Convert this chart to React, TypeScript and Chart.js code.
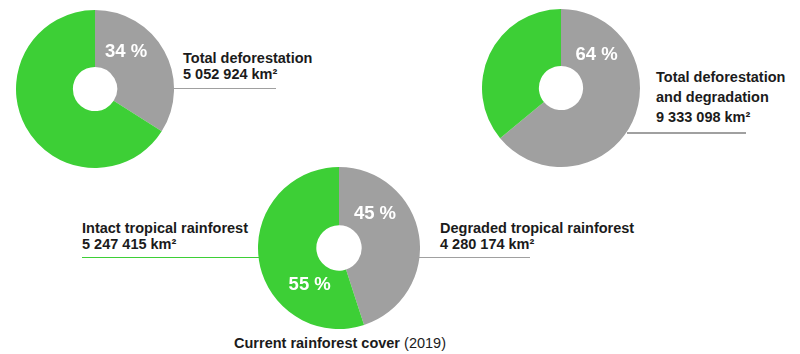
import React, { useEffect, useRef } from "react";
import { Chart, registerables } from "chart.js";
Chart.register(...registerables);

// ---- data ----
const segmentNames = ["Deforested / degraded", "Remaining rainforest"];
const deforestationShares = [34, 66];
const deforestationDegradationShares = [64, 36];
const currentCoverShares = [45, 55];
const deforestationArea = "5 052 924 km²";
const deforestationDegradationArea = "9 333 098 km²";
const intactArea = "5 247 415 km²";
const degradedArea = "4 280 174 km²";

const GREEN = "#3dcf36";
const GRAY = "#a0a0a0";
const TEXT = "#1b1b1b";
const FONT = "'Liberation Sans', Arial, Helvetica, sans-serif";

const pctPlugin = {
  id: "pctLabels",
  afterDatasetsDraw(chart: any, _args: any, opts: any) {
    const meta = chart.getDatasetMeta(0);
    const ds = chart.data.datasets[0];
    const ctx = chart.ctx;
    ctx.save();
    ctx.fillStyle = "#ffffff";
    ctx.font = `bold 18.5px ${FONT}`;
    ctx.textAlign = "center";
    ctx.textBaseline = "middle";
    (opts.items || []).forEach((it: any) => {
      const arc = meta.data[it.index];
      if (!arc) return;
      const a = (it.angle * Math.PI) / 180;
      const x = arc.x + Math.cos(a) * it.dist;
      const y = arc.y + Math.sin(a) * it.dist;
      ctx.fillText(`${ds.data[it.index]} %`, x, y + 1);
    });
    ctx.restore();
  },
};

function Donut(props: { values: number[]; left: number; top: number; size: number; items: any[] }) {
  const ref = useRef<HTMLCanvasElement | null>(null);
  useEffect(() => {
    if (!ref.current) return;
    const chart = new Chart(ref.current, {
      type: "doughnut",
      data: {
        labels: segmentNames,
        datasets: [
          {
            data: props.values,
            backgroundColor: [GRAY, GREEN],
            borderWidth: 0,
          },
        ],
      },
      options: {
        responsive: false,
        animation: false,
        devicePixelRatio: 1,
        cutout: "28%",
        layout: { padding: 0 },
        plugins: {
          legend: { display: false },
          tooltip: { enabled: false },
          pctLabels: { items: props.items },
        } as any,
      },
      plugins: [pctPlugin],
    });
    return () => chart.destroy();
  }, []);
  return (
    <canvas
      ref={ref}
      width={props.size}
      height={props.size}
      style={{ position: "absolute", left: props.left, top: props.top, width: props.size, height: props.size }}
    />
  );
}

const textStyle = (left: number, top: number, lh: number): React.CSSProperties => ({
  position: "absolute",
  left,
  top,
  fontFamily: FONT,
  fontWeight: "bold",
  fontSize: "14.5px",
  lineHeight: `${lh}px`,
  color: TEXT,
  whiteSpace: "nowrap",
});

const lineStyle = (left: number, width: number, top: number, color: string): React.CSSProperties => ({
  position: "absolute",
  left,
  top,
  width,
  height: 1.5,
  background: color,
});

export default function App() {
  useEffect(() => {
    document.body.style.margin = "0";
  }, []);
  return (
    <div style={{ position: "relative", width: 800, height: 354, background: "#fff", overflow: "hidden" }}>
      <div style={lineStyle(174, 102, 87.5, GRAY)} />
      <div style={lineStyle(627, 119, 132, GRAY)} />
      <div style={lineStyle(82, 178, 256.5, GREEN)} />
      <div style={lineStyle(419, 111, 256.5, GRAY)} />

      <Donut values={deforestationShares} left={16} top={10} size={158} items={[{ index: 0, angle: -51, dist: 49.5 }]} />
      <Donut values={deforestationDegradationShares} left={482} top={9} size={158} items={[{ index: 0, angle: -44, dist: 49.5 }]} />
      <Donut
        values={currentCoverShares}
        left={258}
        top={167}
        size={162}
        items={[
          { index: 0, angle: -44, dist: 50 },
          { index: 1, angle: 129, dist: 46.6 },
        ]}
      />

      <div style={textStyle(183, 50, 16)}>
        Total deforestation
        <br />
        {deforestationArea}
      </div>
      <div style={textStyle(656, 67, 20)}>
        Total deforestation
        <br />
        and degradation
        <br />
        {deforestationDegradationArea}
      </div>
      <div style={textStyle(82, 220, 16)}>
        Intact tropical rainforest
        <br />
        {intactArea}
      </div>
      <div style={textStyle(440, 220, 16)}>
        Degraded tropical rainforest
        <br />
        {degradedArea}
      </div>
      <div style={{ ...textStyle(0, 335, 16), left: 0, width: 680, textAlign: "center" }}>
        Current rainforest cover <span style={{ fontWeight: "normal" }}>(2019)</span>
      </div>
    </div>
  );
}
